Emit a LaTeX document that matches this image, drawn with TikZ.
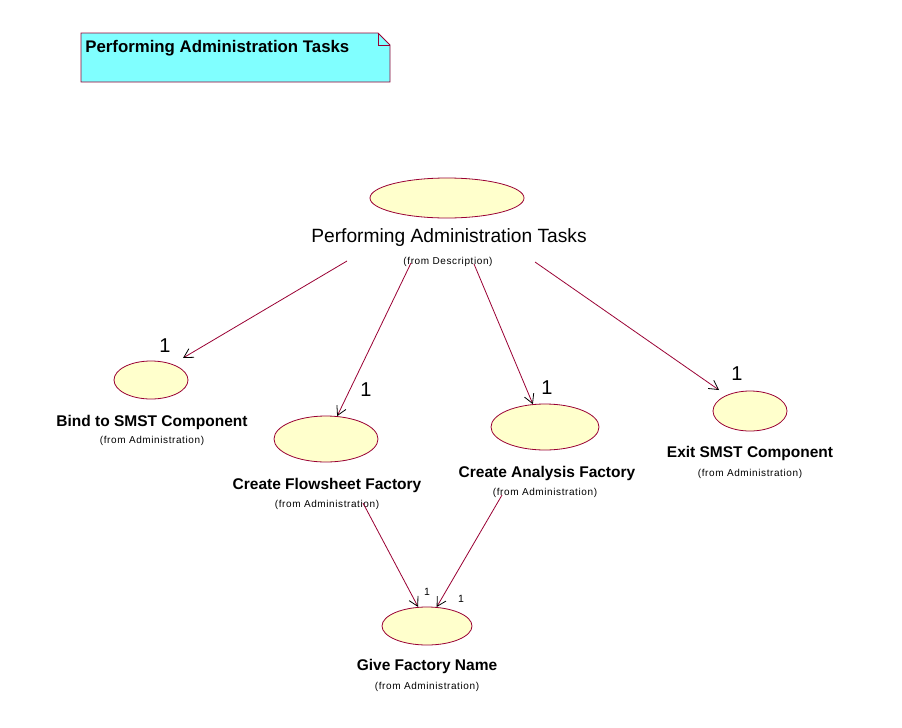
\documentclass[tikz,border=0pt]{standalone}
\usepackage{fontspec}
\setmainfont{Liberation Sans}
\usepackage{xcolor}
\definecolor{roseline}{HTML}{990033}
\definecolor{ucfill}{HTML}{FFFFCC}
\definecolor{notefill}{HTML}{80FFFF}
\usetikzlibrary{arrows.meta,positioning,shapes.geometric}

\begin{document}
\begin{tikzpicture}[x=1pt,y=-1pt,>={Straight Barb[length=9pt,width=10pt,color=black]},line width=0.8pt]
              \tikzstyle{ucase}=[ellipse,draw=roseline,fill=ucfill,inner sep=0pt]
              \tikzstyle{ucname}=[font=\bfseries\fontsize{15.5}{17}\selectfont,inner sep=0pt]
              \tikzstyle{uctop}=[font=\fontsize{19.2}{22}\selectfont,inner sep=0pt]
              \tikzstyle{ucfrom}=[font=\fontsize{10}{11}\selectfont\addfontfeature{LetterSpace=6},inner sep=0pt]
              \tikzstyle{mult}=[font=\fontsize{20}{22}\selectfont,inner sep=0pt]
              \tikzstyle{smult}=[font=\fontsize{10.5}{12}\selectfont,inner sep=0pt]
              \tikzstyle{use}=[->,draw=roseline]

              \useasboundingbox (0,0) rectangle (902,728);

              % note
              \fill[notefill] (81,33) -- (378,33) -- (390,45) -- (390,82) -- (81,82) -- cycle;
              \draw[roseline] (81,33) -- (378,33) -- (390,45) -- (390,82) -- (81,82) -- cycle;
              \draw[roseline] (378,33) -- (378,45) -- (390,45);
              \node[font=\bfseries\fontsize{16.8}{18}\selectfont,anchor=base west,inner sep=0pt] (notetext) at (85,52) {Performing Administration Tasks};

              % use cases
              \node[ucase,minimum width=154pt,minimum height=40pt] (perf)  at (447,198) {};
              \node[uctop]  (perfname) at (449,238) {Performing Administration Tasks};
              \node[ucfrom] (perffrom) at (448,262) {(from Description)};

              \node[ucase,minimum width=74pt,minimum height=38pt]  (bind)  at (151,380) {};
              \node[ucname] (bindname) at (152,422) {Bind to SMST Component};
              \node[ucfrom] (bindfrom) at (152,441) {(from Administration)};

              \node[ucase,minimum width=104pt,minimum height=46pt] (flow)  at (326,439) {};
              \node[ucname] (flowname) at (327,485) {Create Flowsheet Factory};
              \node[ucfrom] (flowfrom) at (327,505) {(from Administration)};

              \node[ucase,minimum width=108pt,minimum height=46pt] (anal)  at (545,427) {};
              \node[ucname] (analname) at (547,473) {Create Analysis Factory};
              \node[ucfrom] (analfrom) at (545,493) {(from Administration)};

              \node[ucase,minimum width=74pt,minimum height=40pt]  (exit)  at (750,411) {};
              \node[ucname] (exitname) at (750,453) {Exit SMST Component};
              \node[ucfrom] (exitfrom) at (750,474) {(from Administration)};

              \node[ucase,minimum width=90pt,minimum height=38pt]  (give)  at (427,626) {};
              \node[ucname] (givename) at (427,666) {Give Factory Name};
              \node[ucfrom] (givefrom) at (427,687) {(from Administration)};

              % multiplicities
              \node[mult]  (mbind) at (165,346) {1};
              \node[mult]  (mflow) at (366,390) {1};
              \node[mult]  (manal) at (547,388) {1};
              \node[mult]  (mexit) at (737,374) {1};
              \node[smult] (mgive1) at (427,592) {1};
              \node[smult] (mgive2) at (461,599) {1};

              % arrow starts
              \coordinate (s1) at (347,261);
              \coordinate (s2) at (411,263);
              \coordinate (s3) at (474,264);
              \coordinate (s4) at (535,262);
              \coordinate (s5) at (363,503);
              \coordinate (s6) at (502,495);
              \coordinate (t1) at (183,358);
              \coordinate (t4) at (719,390);

              \path (s1) edge [use] (t1)
                    (s2) edge [use] (flow.64)
                    (s3) edge [use] (anal.118)
                    (s4) edge [use] (t4)
                    (s5) edge [use] (give.115)
                    (s6) edge [use] (give.63);

\end{tikzpicture}
\end{document}
